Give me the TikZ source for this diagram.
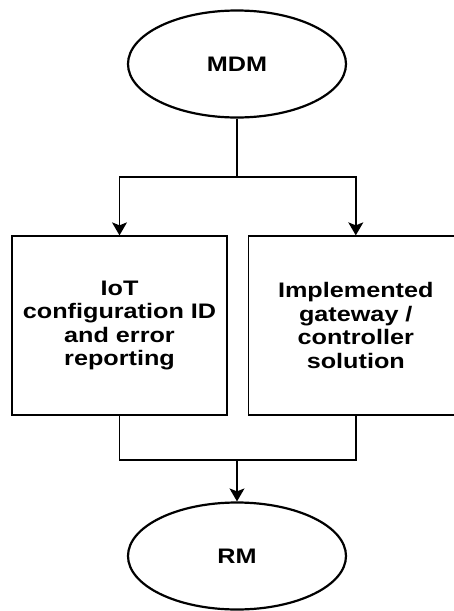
\documentclass[tikz,border=0pt]{standalone}
\usepackage{fontspec}
\setmainfont[FakeStretch=1.2]{Liberation Sans}
\usetikzlibrary{positioning,shapes.geometric,arrows.meta}

\begin{document}
\begin{tikzpicture}[x=1pt,y=-1pt,>={Stealth[length=13pt,width=15pt,inset=3pt]},
    font=\fontsize{21}{23.5}\selectfont\bfseries]

\tikzstyle{oval}=[draw=black,line width=2.2pt,ellipse,minimum width=218pt,minimum height=107pt,inner sep=0pt]
\tikzstyle{block}=[draw=black,line width=1.3pt,minimum width=215pt,minimum height=179pt,align=center,inner sep=0pt]
\tikzstyle{link}=[line width=1.4pt]

    \useasboundingbox (0,0) rectangle (454,611);

    \node[oval] (MDM) at (237,64) {MDM};
    \node[block] (IoT) at (119.5,325.5) {IoT\\configuration ID\\and error\\reporting};
    \node[block, right=20pt of IoT] (Gw) {Implemented\\gateway /\\controller\\solution};
    \node[oval] (RM) at (237,556) {RM};

    \coordinate (split) at (237,177);
    \coordinate (merge) at (237,460);

\draw[link] (MDM) -- (split);
\draw[link,->] (split) -| (IoT);
\draw[link,->] (split) -| (Gw);
\draw[link] (IoT) |- (merge);
\draw[link] (Gw) |- (merge);
\draw[link,->] (merge) -- (RM);
\end{tikzpicture}
\end{document}
